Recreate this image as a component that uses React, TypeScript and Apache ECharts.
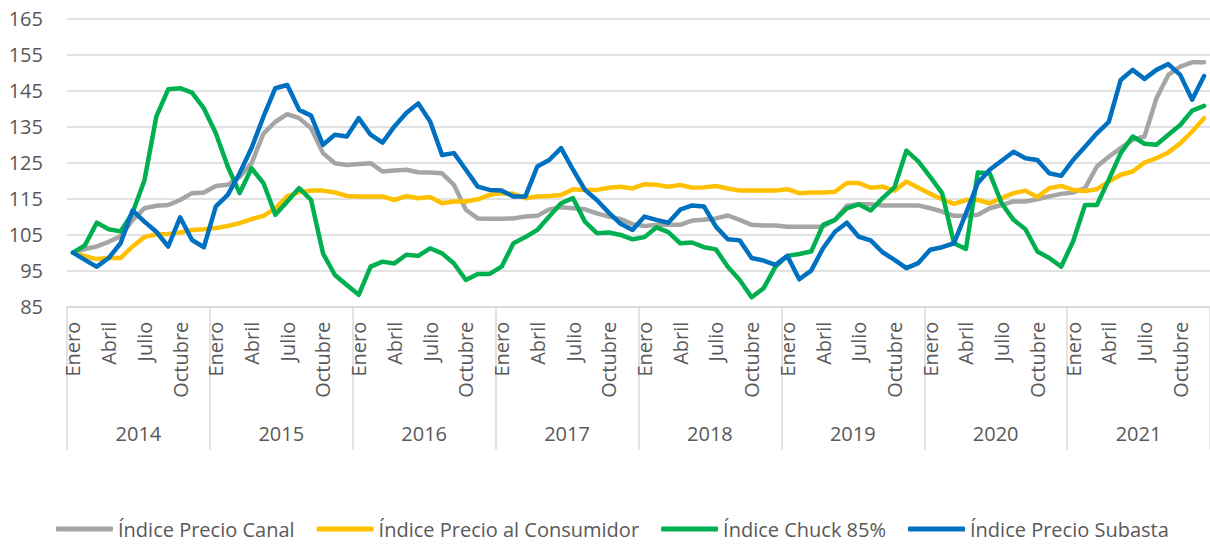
import React, { useEffect, useRef } from "react";
import * as echarts from "echarts";

const monthNames = ["Enero", "Febrero", "Marzo", "Abril", "Mayo", "Junio", "Julio", "Agosto", "Septiembre", "Octubre", "Noviembre", "Diciembre"];
const years = ["2014", "2015", "2016", "2017", "2018", "2019", "2020", "2021"];
const yTicks = { min: 85, max: 165, interval: 10 };

const precioCanal = [
  100, 101, 101.7, 103, 104.5, 109, 112.3, 113, 113.2, 114.6, 116.5, 116.7,
  118.5, 118.8, 121, 124.8, 133, 136.3, 138.4, 137.3, 134.5, 127.6, 124.8, 124.3,
  124.6, 124.8, 122.5, 122.8, 123, 122.3, 122.2, 122, 118.8, 111.9, 109.5, 109.4,
  109.4, 109.5, 110, 110.2, 112, 112.6, 112.3, 112, 110.9, 110, 109.3, 107.9,
  107.4, 107.7, 107.7, 107.7, 108.9, 109.1, 109.5, 110.3, 109.1, 107.7, 107.5, 107.5,
  107.2, 107.2, 107.2, 107.2, 109.1, 113, 113.4, 113.4, 113.1, 113.1, 113.1, 113.1,
  112.3, 111.4, 110.2, 110.2, 110.5, 112.3, 113.2, 114.2, 114.2, 114.8, 115.6, 116.3,
  116.7, 117.9, 123.9, 126.6, 129, 131.3, 132.2, 142.8, 149.3, 151.6, 152.8, 152.8,
];

const precioConsumidor = [
  100, 99, 98.2, 98.5, 98.5, 101.7, 104.3, 105.1, 105.2, 105.6, 106.3, 106.5,
  106.8, 107.4, 108.2, 109.3, 110.2, 112.3, 115.6, 116.8, 117.2, 117.2, 116.7, 115.7,
  115.6, 115.6, 115.6, 114.6, 115.7, 115.1, 115.4, 113.7, 114.2, 114.2, 114.8, 116,
  116.5, 116.3, 115.1, 115.6, 115.7, 116, 117.6, 117.4, 117.4, 118, 118.3, 117.8,
  119, 118.8, 118.3, 118.8, 118, 118.1, 118.5, 117.8, 117.2, 117.2, 117.2, 117.2,
  117.6, 116.5, 116.7, 116.7, 116.9, 119.3, 119.3, 118, 118.3, 117.2, 119.7, 118,
  116.3, 114.8, 113.5, 114.6, 114.6, 113.7, 115.1, 116.5, 117.2, 115.4, 117.9, 118.5,
  117.4, 117.1, 117.6, 119.7, 121.6, 122.5, 125, 126.2, 127.8, 130.3, 133.6, 137.3,
];

const chuck85 = [
  100, 102, 108.3, 106.5, 105.9, 111, 120, 137.7, 145.3, 145.6, 144.4, 140,
  133.1, 123.9, 116.5, 123.4, 119.3, 110.5, 114.2, 117.9, 114.6, 99.8, 93.8, 91,
  88.3, 96.1, 97.5, 97, 99.4, 99.1, 101.2, 99.8, 97, 92.4, 94.1, 94.1,
  96.1, 102.6, 104.3, 106.3, 110, 113.7, 115.1, 108.6, 105.4, 105.6, 104.9, 103.7,
  104.3, 107, 105.7, 102.6, 102.8, 101.5, 100.9, 96.1, 92.4, 87.6, 90.1, 96.1,
  99.1, 99.6, 100.3, 107.7, 109.1, 112.3, 113.4, 111.7, 115.1, 118.1, 128.3, 125.3,
  121, 116.5, 102.6, 101, 122.2, 122, 113.7, 109.1, 106.5, 100.3, 98.5, 96.1,
  103.1, 113.2, 113.2, 120.2, 127.6, 132.2, 130.2, 129.9, 132.7, 135.4, 139.4, 140.7,
];

const precioSubasta = [
  100, 98, 96.1, 98.5, 102.6, 111.7, 108.6, 105.8, 101.7, 109.8, 103.5, 101.5,
  112.8, 116, 122, 129, 137.7, 145.6, 146.5, 139.6, 138, 129.9, 132.7, 132.2,
  137.3, 132.7, 130.5, 135, 138.7, 141.4, 136.4, 127.1, 127.6, 123, 118.3, 117.4,
  117.2, 115.6, 115.6, 123.9, 125.7, 129, 123, 117.4, 114.6, 111.1, 108, 106.3,
  110, 109.1, 108.3, 111.9, 113.1, 112.8, 107.2, 103.7, 103.4, 98.5, 97.8, 96.6,
  99.1, 92.6, 95, 101.2, 105.8, 108.3, 104.4, 103.4, 100.1, 98, 95.7, 97.1,
  100.8, 101.5, 102.6, 110.9, 119.3, 123, 125.5, 128, 126.2, 125.7, 122, 121.3,
  125.7, 129.4, 133.1, 136.3, 147.9, 150.7, 148.2, 150.7, 152.3, 149.3, 142.4, 149,
];

const seriesDefs = [
  { name: "Índice Precio Canal", data: precioCanal, color: "#A5A5A5" },
  { name: "Índice Precio al Consumidor", data: precioConsumidor, color: "#FFC000" },
  { name: "Índice Chuck 85%", data: chuck85, color: "#00B050" },
  { name: "Índice Precio Subasta", data: precioSubasta, color: "#0070C0" },
];

const FONT = "'Open Sans', 'Noto Sans', sans-serif";
const TEXT_COLOR = "#595959";
const GRID_COLOR = "#D9D9D9";

export default function App() {
  const ref = useRef<HTMLDivElement>(null);

  useEffect(() => {
    if (!ref.current) return;
    const chart = echarts.init(ref.current, null, { renderer: "svg" });
    const categories = years.flatMap((y) => monthNames.map((m) => `${m}|${y}`));

    chart.setOption({
      animation: false,
      backgroundColor: "#FFFFFF",
      textStyle: { fontFamily: FONT },
      grid: { left: 67, top: 18.3, width: 1148, height: 288.4, containLabel: false },
      legend: {
        left: 51,
        top: 514,
        padding: 5,
        icon: "roundRect",
        itemWidth: 57,
        itemHeight: 5,
        itemGap: 22,
        textStyle: { fontFamily: FONT, fontSize: 20, lineHeight: 18, color: TEXT_COLOR },
        data: seriesDefs.map((s) => s.name),
      },
      xAxis: [
        {
          type: "category",
          data: categories,
          boundaryGap: true,
          position: "bottom",
          axisLine: { show: true, onZero: false, lineStyle: { color: GRID_COLOR, width: 1.5 } },
          axisTick: { show: false },
          splitLine: { show: false },
          axisLabel: {
            interval: (index: number) => index % 3 === 0,
            rotate: 90,
            margin: 15,
            fontFamily: FONT,
            fontSize: 20,
            color: TEXT_COLOR,
            formatter: (v: string) => v.split("|")[0],
          },
        },
        {
          type: "category",
          data: years,
          boundaryGap: true,
          position: "bottom",
          offset: 0,
          axisLine: { show: false, onZero: false },
          axisTick: { show: true, interval: 0, length: 143, lineStyle: { color: GRID_COLOR, width: 1.5 } },
          splitLine: { show: false },
          axisLabel: {
            interval: 0,
            margin: 117,
            fontFamily: FONT,
            fontSize: 20,
            color: TEXT_COLOR,
          },
        },
      ],
      yAxis: {
        type: "value",
        min: yTicks.min,
        max: yTicks.max,
        interval: yTicks.interval,
        axisLine: { show: false },
        axisTick: { show: false },
        splitLine: { show: true, lineStyle: { color: GRID_COLOR, width: 1.5 } },
        axisLabel: { margin: 24, fontFamily: FONT, fontSize: 20, color: TEXT_COLOR },
      },
      series: seriesDefs.map((s) => ({
        name: s.name,
        type: "line",
        data: s.data,
        xAxisIndex: 0,
        symbol: "none",
        showSymbol: false,
        color: s.color,
        itemStyle: { color: s.color },
        lineStyle: { color: s.color, width: 4.5, cap: "round", join: "round" },
      })),
    });

    return () => chart.dispose();
  }, []);

  return (
    <div
      ref={ref}
      style={{ position: "absolute", left: 0, top: 0, width: "1210px", height: "546px", background: "#fff" }}
    />
  );
}
